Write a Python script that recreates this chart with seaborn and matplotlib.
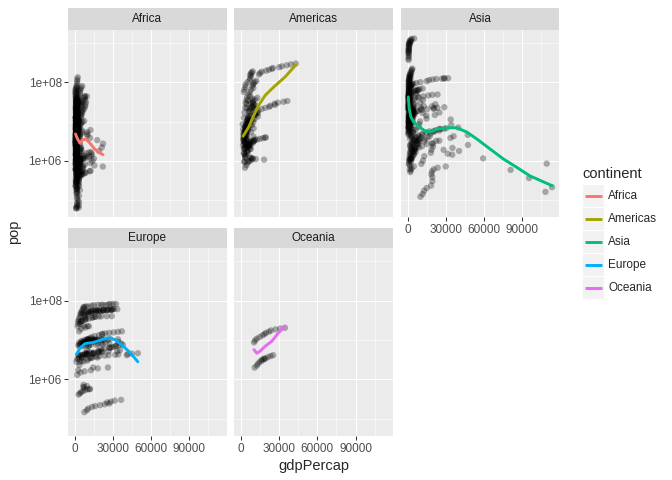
import numpy as np
import matplotlib
matplotlib.use('Agg')
import matplotlib.pyplot as plt
from matplotlib.ticker import FixedLocator, NullFormatter, FixedFormatter
from matplotlib.patches import Rectangle
import seaborn as sns

sns.set_theme(style='white')
plt.rcParams['font.family'] = ['Liberation Sans', 'DejaVu Sans']

# gapminder values (pop in millions)
continents = ['Africa', 'Americas', 'Asia', 'Europe', 'Oceania']
colors = ['#F8766D', '#A3A500', '#00BF7D', '#00B0F6', '#E76BF3']

africa_gdp = [
    2388, 3448, 6757, 18773, 21011, 21951, 17364, 11770, 9641, 9467, 9535, 12057,
    4293, 4976, 6631, 8359, 11402, 21746, 15113, 11864, 13522, 14723, 12522, 13206,
    4725, 5487, 5769, 7114, 7765, 8029, 8568, 7826, 7225, 7479, 7711, 9270,
    2449, 3014, 2551, 3247, 4183, 4910, 5745, 5681, 5023, 4797, 5288, 6223,
    1469, 1395, 1661, 1933, 2753, 3120, 3561, 3811, 4333, 4877, 5723, 7093,
    1419, 1459, 1693, 1815, 2024, 2785, 3504, 3885, 3795, 4173, 4755, 5581,
    1688, 1643, 1566, 1711, 1930, 2371, 2703, 2755, 2948, 2982, 3258, 3820,
    3521, 3828, 4269, 5523, 5473, 3009, 2757, 2430, 2628, 2277, 2773, 4797,
    2126, 2315, 2465, 2677, 3213, 3259, 4879, 4201, 4016, 3484, 3484, 3633,
    2424, 2622, 3173, 3793, 3746, 3876, 4191, 3694, 3804, 3899, 4072, 4811,
    1148, 1244, 1597, 1856, 3365, 3781, 3895, 3984, 3553, 3876, 4128, 4513,
    2719, 2770, 3173, 4021, 5048, 4320, 5267, 5303, 6101, 6071, 6316, 7670,
    2670, 2865, 3021, 3020, 3694, 3082, 2880, 2880, 2377, 1895, 1908, 2082,
    880, 861, 1071, 1385, 1533, 1738, 1890, 1516, 1428, 1339, 1353, 1598,
    1103, 1211, 1407, 1876, 1938, 1173, 1267, 1316, 1246, 1174, 1076, 986,
    485, 520, 599, 734, 757, 884, 836, 612, 666, 653, 661, 753,
    1077, 1150, 1353, 1577, 1619, 2014, 1100, 1014, 1982, 1385, 1625, 1615,
    362, 419, 566, 578, 422, 691, 379, 516, 557, 573, 516, 530,
    781, 896, 905, 673, 458, 278, 906, 862, 796, 673, 312, 241,
    1615, 1959, 1570, 1895, 1492, 2602, 1770, 1687, 2202, 1507, 1632, 1993,
    717, 849, 915, 875, 825, 1107, 699, 882, 963, 832, 789, 900,
    853, 897, 1222, 1348, 1341, 1463, 944, 1057, 1268, 1361, 1360, 1288,
    735, 768, 950, 682, 644, 1056, 775, 909, 844, 618, 816, 928,
    911, 1190, 1302, 876, 925, 1328, 1044, 1126, 993, 847, 1005, 1112,
    469, 556, 724, 462, 410, 824, 495, 567, 502, 390, 473, 634,
    1443, 1644, 1749, 1452, 1040, 1045, 1590, 1634, 1545, 1156, 987, 894,
    1389, 1729, 2378, 2603, 1649, 1545, 1501, 2052, 2518, 2157, 1786, 1648,
    1173, 1400, 1685, 2367, 1793, 2042, 1313, 1508, 1783, 2602, 1694, 1934,
    407, 527, 800, 789, 693, 470, 519, 570, 686, 706, 792, 672,
    369, 470, 666, 633, 563, 759, 416, 495, 665, 636, 692, 665,
    762, 1054, 955, 909, 581, 619, 959, 1055, 808, 668, 580, 601,
    543, 722, 854, 807, 931, 1217, 617, 795, 743, 912, 946, 1038,
    452, 496, 582, 619, 739, 1043, 490, 546, 686, 684, 790, 952,
    1450, 1654, 1598, 1518, 1367, 1712, 1568, 1612, 1562, 1441, 1393, 1520,
    1147, 1453, 1773, 1408, 1210, 1271, 1312, 1777, 1589, 1213, 1071, 1071,
    1179, 1389, 1104, 797, 1058, 1704, 1308, 1197, 1134, 952, 1005, 1156,
    510, 686, 742, 857, 795, 943, 576, 709, 875, 805, 870, 945,
    1136, 1385, 1254, 1177, 927, 926, 1258, 1284, 1451, 1093, 931, 882,
    493, 597, 591, 882, 737, 863, 540, 511, 670, 848, 590, 786,
    339, 355, 464, 560, 631, 430, 380, 413, 556, 621, 463, 446,
    1063, 949, 1086, 1278, 1191, 1441, 960, 1036, 1173, 1226, 1233, 1373,
    880, 1117, 1353, 1465, 1068, 863, 1004, 1207, 1348, 1294, 574, 699,
    859, 1068, 1650, 1344, 1035, 883, 925, 1477, 1533, 1203, 982, 886,
    329, 381, 514, 524, 582, 641, 344, 468, 506, 521, 913, 765,
    1071, 1194, 1071, 1054, 748, 706, 1190, 1136, 1109, 1133, 740, 738,
    575, 634, 803, 573, 636, 415, 620, 713, 640, 507, 610, 531,
    743, 1056, 1586, 1482, 1361, 1803, 847, 1366, 1497, 1421, 1483, 1579,
    299, 412, 497, 797, 977, 1569, 336, 411, 746, 773, 1187, 1275,
    300, 431, 820, 838, 746, 579, 432, 576, 765, 736, 796, 575,
    376, 582, 672, 927, 1132, 2814, 7703, 12154, 426, 916, 959, 967,
    851, 984, 2263, 4551, 6206, 7954, 8647, 11004, 12570, 918, 1215, 3215,
    1968, 2529, 2575, 3689, 6058, 7426, 9022, 10957, 2244, 2475, 3710, 4064,
]
africa_pop = [
    1.02, 1.15, 1.32, 1.76, 2.18, 2.72, 3.34, 3.80, 4.36, 4.76, 5.37, 6.04,
    0.42, 0.43, 0.455, 0.489, 0.537, 0.706, 0.753, 0.880, 0.985, 1.126, 1.299, 1.454,
    14.26, 16.15, 18.36, 20.99, 23.94, 27.13, 31.14, 35.93, 39.96, 42.84, 44.43, 43.99,
    9.28, 10.27, 11.0, 12.76, 14.76, 17.15, 20.03, 23.25, 26.3, 29.07, 31.29, 33.33,
    3.65, 3.95, 4.29, 4.79, 5.3, 6.0, 6.73, 7.72, 8.52, 9.23, 9.77, 10.28,
    22.2, 25.0, 28.2, 31.5, 34.8, 38.8, 45.7, 52.8, 59.4, 66.1, 73.3, 80.3,
    9.94, 11.4, 13.06, 14.77, 16.66, 18.4, 20.2, 22.99, 25.8, 28.5, 31.2, 33.8,
    4.23, 4.56, 4.83, 5.25, 5.89, 6.16, 7.02, 7.87, 8.74, 9.88, 10.87, 12.42,
    0.85, 0.94, 1.05, 1.18, 1.34, 1.54, 1.77, 2.06, 2.43, 2.8, 3.33, 3.8,
    0.49, 0.55, 0.62, 0.71, 0.82, 0.98, 1.1, 1.28, 1.55, 1.77, 1.97, 2.06,
    0.29, 0.33, 0.37, 0.42, 0.48, 0.55, 0.65, 0.78, 0.96, 1.05, 1.13, 1.13,
    0.26, 0.31, 0.36, 0.41, 0.46, 0.49, 0.52, 0.56, 0.62, 0.68, 0.74, 0.8,
    0.063, 0.072, 0.089, 0.127, 0.178, 0.229, 0.306, 0.348, 0.385, 0.418, 0.448, 0.497,
    0.060, 0.061, 0.065, 0.07, 0.076, 0.086, 0.098, 0.111, 0.125, 0.146, 0.171, 0.2,
    0.15, 0.17, 0.19, 0.22, 0.25, 0.30, 0.35, 0.4, 0.45, 0.53, 0.61, 0.71,
    0.28, 0.32, 0.37, 0.44, 0.52, 0.61, 0.72, 0.85, 1.03, 1.24, 1.46, 1.69,
    33.1, 41.9, 53.7, 73.0, 93.4, 135.0, 37.2, 47.3, 62.2, 81.6, 106.2, 119.9,
    20.9, 24.7, 30.8, 38.1, 52.1, 76.5, 22.8, 27.9, 34.6, 42.9, 59.9, 67.9,
    14.1, 17.5, 23.0, 30.6, 41.7, 64.6, 15.6, 19.9, 26.5, 35.5, 47.8, 55.4,
    8.5, 11.2, 14.6, 20.4, 28.2, 42.3, 9.75, 12.7, 17.1, 24.7, 32.2, 37.1,
    8.3, 10.9, 14.8, 19.8, 26.6, 38.1, 9.5, 12.6, 17.1, 23.0, 30.7, 34.6,
    6.5, 8.7, 12.0, 17.7, 25.0, 35.6, 7.45, 10.2, 14.5, 21.2, 28.3, 31.4,
    5.8, 7.7, 10.2, 12.9, 18.3, 29.2, 6.7, 8.9, 11.5, 15.3, 21.2, 24.7,
    5.6, 7.4, 9.4, 11.4, 16.3, 22.9, 6.4, 8.5, 10.5, 14.2, 18.4, 20.6,
    6.4, 7.8, 9.8, 12.6, 13.2, 19.95, 7.0, 8.7, 11.1, 12.9, 16.6, 18.5,
    4.8, 5.7, 7.1, 9.2, 12.2, 19.2, 5.2, 6.3, 8.0, 10.6, 14.2, 16.5,
    3.0, 3.8, 5.8, 9.0, 12.8, 18.0, 3.3, 4.7, 7.5, 10.8, 14.6, 16.3,
    5.0, 5.8, 7.0, 9.3, 12.5, 17.7, 5.4, 6.3, 7.9, 10.8, 14.2, 15.9,
    3.1, 4.3, 5.9, 7.6, 10.7, 12.3, 3.6, 4.99, 6.6, 9.2, 11.4, 11.9,
    2.9, 3.6, 4.7, 6.5, 10.0, 13.3, 3.2, 4.1, 5.6, 7.8, 10.4, 11.8,
    3.4, 4.1, 5.1, 6.4, 8.4, 12.9, 3.7, 4.5, 5.7, 7.3, 10.0, 11.1,
    4.5, 4.9, 5.8, 6.6, 8.9, 14.3, 4.7, 5.1, 6.3, 7.6, 10.4, 12.3,
    3.8, 4.2, 5.1, 6.4, 8.4, 12.0, 4.0, 4.6, 5.7, 7.6, 9.4, 10.6,
    2.8, 3.3, 4.4, 6.1, 8.3, 12.3, 3.05, 3.97, 5.26, 7.0, 9.5, 10.9,
    2.7, 3.4, 4.5, 6.1, 8.4, 11.7, 3.0, 3.9, 5.2, 7.3, 9.4, 10.6,
    2.7, 3.2, 3.9, 4.9, 6.4, 10.2, 2.9, 3.5, 4.4, 5.5, 7.6, 8.8,
    2.7, 3.1, 3.8, 4.7, 6.99, 9.9, 2.9, 3.45, 4.2, 5.65, 8.0, 8.8,
    2.5, 2.9, 3.8, 5.8, 6.1, 9.1, 2.8, 3.4, 4.4, 6.2, 6.6, 7.75,
    2.5, 3.1, 3.99, 5.5, 7.3, 8.9, 2.8, 3.45, 4.66, 6.35, 7.2, 7.85,
    2.4, 2.96, 3.5, 4.6, 5.8, 8.4, 2.7, 3.3, 3.8, 5.1, 6.1, 7.0,
    1.7, 2.2, 2.8, 3.6, 4.98, 8.1, 1.9, 2.4, 3.2, 4.2, 6.1, 7.0,
    2.1, 2.5, 2.9, 3.5, 4.3, 6.1, 2.3, 2.7, 3.1, 3.9, 4.6, 5.4,
    1.2, 1.5, 2.1, 2.6, 3.9, 5.7, 1.36, 1.7, 2.3, 3.2, 4.3, 4.98,
    1.4, 1.7, 2.3, 2.6, 3.7, 4.9, 1.5, 1.97, 2.5, 2.9, 4.06, 4.4,
    1.3, 1.5, 1.8, 2.5, 3.3, 4.4, 1.4, 1.7, 2.2, 2.8, 3.7, 4.05,
    0.86, 1.1, 1.5, 1.96, 1.9, 3.2, 0.97, 1.3, 1.7, 2.2, 2.2, 2.8,
    1.0, 1.1, 1.3, 1.6, 2.1, 3.3, 1.08, 1.2, 1.46, 1.84, 2.44, 2.83,
    0.75, 0.89, 1.1, 1.4, 1.8, 2.0, 0.81, 0.99, 1.25, 1.6, 1.98, 2.05,
    0.58, 0.63, 0.63, 0.83, 1.05, 1.47, 0.6, 0.6, 0.75, 0.93, 1.19, 1.33,
    0.22, 0.23, 0.28, 0.29, 0.39, 0.44, 0.50, 0.55, 0.23, 0.26, 0.19, 0.34,
    0.44, 0.51, 0.65, 0.97, 1.15, 1.34, 1.54, 1.63, 1.64, 0.47, 0.55, 0.78,
    0.52, 0.70, 0.85, 0.99, 1.10, 1.15, 1.2, 1.25, 0.61, 0.79, 0.91, 1.04,
]

americas_gdp = [
    13990, 14847, 16173, 19530, 21806, 24073, 25010, 29884, 32004, 35767, 39097, 42952,
    11367, 12490, 13462, 16077, 18971, 22091, 22899, 26627, 26343, 28955, 33329, 36319,
    2109, 2487, 3337, 3430, 4986, 6660, 7031, 7807, 6950, 7958, 8131, 9066,
    3478, 4132, 4582, 5755, 6809, 7675, 9611, 8688, 9472, 9767, 10742, 11978,
    5911, 6857, 7133, 8053, 9443, 10079, 8998, 9140, 9308, 10967, 8798, 12779,
    7690, 9802, 8422, 9541, 10506, 13144, 11152, 9884, 10734, 10165, 8605, 11416,
    3082, 3908, 5108, 6930, 9123, 9771, 10331, 12281, 14642, 16999, 18856, 19329,
    3023, 4100, 4997, 5621, 6620, 7900, 9119, 7389, 7371, 8792, 11461, 18009,
    3940, 4316, 4519, 5107, 5494, 4757, 5096, 5547, 7596, 10118, 10779, 13172,
    5587, 5181, 5305, 7316, 5593, 8948,
    2144, 2493, 3265, 4398, 5445, 7007,
    3759, 4957, 5938, 6435, 4446, 7409,
    3522, 4087, 5281, 7214, 7104, 6873,
    2428, 2750, 3791, 4820, 4440, 5186,
    1840, 1797, 1655, 2012, 1457, 1202,
    2677, 2181, 2980, 3157, 2962, 3822,
    1398, 1662, 2190, 2861, 3045, 6025,
    2195, 2291, 2572, 3121, 3082, 3548,
    3048, 3777, 4520, 4140, 4444, 5728,
    2138, 2148, 2566, 4258, 4196, 4173,
    3112, 3634, 4689, 3470, 2171, 2749,
    2627, 3460, 5118, 5262, 6160, 9645,
    5717, 5603, 5703, 6920, 8137, 10611,
    2480, 3173, 5116, 7010, 6619, 9809,
    2899, 4743, 7434, 6068, 7405, 7321,
]
americas_pop = [
    157.6, 172.0, 186.5, 198.7, 209.9, 220.2, 232.2, 242.8, 256.9, 272.9, 287.7, 301.1,
    14.79, 17.01, 18.99, 20.82, 22.28, 23.80, 25.2, 26.55, 28.52, 30.31, 31.9, 33.39,
    56.6, 65.6, 76.0, 88.0, 100.8, 114.3, 129.0, 142.9, 156.0, 168.5, 179.9, 190.0,
    30.1, 35.0, 41.1, 48.0, 56.0, 63.8, 71.6, 80.1, 88.1, 95.9, 102.5, 108.7,
    17.9, 19.6, 21.3, 22.9, 24.8, 26.98, 29.3, 31.6, 33.96, 36.2, 38.3, 40.3,
    5.4, 6.7, 8.1, 9.7, 11.5, 13.5, 15.6, 17.9, 20.3, 22.4, 24.3, 26.1,
    2.23, 2.26, 2.45, 2.65, 2.85, 3.08, 3.28, 3.44, 3.59, 3.76, 3.86, 3.94,
    0.66, 0.76, 0.88, 0.96, 0.98, 1.04, 1.12, 1.19, 1.18, 1.14, 1.10, 1.06,
    6.4, 7.0, 7.96, 8.9, 9.7, 10.4, 11.5, 12.5, 13.6, 14.6, 15.5, 16.3,
    6.0, 7.25, 8.8, 9.8, 10.7, 11.4,
    12.4, 17.0, 22.5, 27.8, 34.2, 44.2,
    8.0, 10.5, 13.95, 18.1, 22.4, 28.7,
    3.5, 4.7, 6.3, 8.4, 10.7, 13.8,
    3.1, 4.2, 5.5, 7.0, 8.9, 12.6,
    3.2, 3.9, 4.7, 5.2, 6.3, 8.5,
    2.9, 3.6, 4.6, 5.6, 6.9, 9.1,
    2.5, 3.45, 4.7, 6.0, 7.35, 9.3,
    1.5, 2.1, 2.9, 4.0, 5.3, 7.5,
    2.0, 2.7, 3.8, 4.5, 5.3, 6.9,
    1.6, 2.0, 2.6, 3.4, 4.5, 6.7,
    1.2, 1.6, 2.2, 3.0, 4.0, 5.7,
    0.93, 1.35, 1.8, 2.4, 3.2, 4.1,
    2.25, 2.54, 2.83, 2.95, 3.15, 3.45,
    0.94, 1.2, 1.6, 2.0, 2.5, 3.2,
    1.4, 1.7, 1.99, 2.3, 2.4, 2.8,
]

asia_gdp = [
    400, 576, 488, 613, 677, 741, 962, 1379, 1656, 2289, 3119, 4959,
    547, 590, 658, 701, 724, 813, 856, 977, 1164, 1459, 1747, 2452,
    750, 859, 849, 762, 1111, 1383, 1517, 1748, 2383, 3119, 2874, 3541,
    3217, 4318, 6577, 9848, 14779, 16610, 19384, 22376, 26825, 28817, 28605, 31656,
    685, 747, 803, 942, 1050, 1176, 1443, 1705, 1972, 2049, 2093, 2606,
    684, 662, 686, 721, 630, 660, 677, 752, 838, 973, 1136, 1391,
    1031, 1488, 1536, 2029, 3031, 4657, 5623, 8533, 12104, 15994, 19234, 23348,
    1207, 1508, 1823, 2644, 4063, 5597, 7426, 11055, 15216, 20207, 23235, 28718,
    3054, 3629, 4693, 6198, 8316, 11186, 14561, 20038, 24758, 28378, 30209, 39725,
    2316, 2761, 3674, 4978, 8597, 11210, 15170, 18862, 24769, 33519, 36023, 47143,
    108382, 113523, 95458, 80895, 109348, 59265, 31354, 28118, 34933, 40301, 35110, 47307,
    6460, 8157, 11626, 16903, 24837, 34168, 33693, 21199, 24841, 20586, 19014, 21655,
    9867, 11636, 12753, 14805, 18269, 19340, 19211, 18524, 19036, 20292, 23404, 29796,
    1828, 2243, 2925, 4721, 10618, 11849, 12955, 18115, 18617, 19702, 19775, 22316,
    4087, 5386, 7106, 8394, 12787, 13307, 15367, 17123, 18051, 20897, 21906, 25523,
    3035, 3291, 4187, 5907, 9614, 11889, 7608, 6643, 7235, 8263, 9241, 11606,
    4130, 6229, 8342, 8931, 9577, 14688, 14517, 11644, 3746, 3076, 4391, 4471,
    4834, 6090, 5716, 6006, 7486, 8659, 7640, 5377, 6891, 8755, 9314, 10461,
    1831, 1810, 2037, 2278, 2849, 3828, 4920, 5249, 7278, 10132, 10207, 12452,
    758, 874, 1010, 1485, 1659, 1962, 2393, 2983, 4617, 5852, 5913, 7458,
    1273, 1548, 1650, 1814, 1990, 2373, 2603, 2190, 2279, 2537, 2651, 3190,
    605, 676, 772, 637, 700, 714, 707, 821, 989, 1386, 1764, 2442,
    331, 350, 388, 349, 357, 371, 424, 385, 347, 415, 611, 944,
    779, 821, 853, 836, 740, 786, 978, 852, 649, 635, 727, 975,
    546, 598, 652, 677, 674, 695, 719, 775, 897, 1011, 1057, 1091,
    1084, 1073, 1074, 1136, 1213, 1349, 1648, 1877, 2154, 2665, 3015, 3970,
    1088, 1571, 1622, 2144, 3702, 4106, 4107, 4106, 3726, 1690, 1647, 1593,
    1644, 2118, 2194, 1882, 2572, 3195, 3762, 3900, 3421, 4014, 4091, 4185,
    1547, 1887, 2349, 2742, 2110, 2853, 4161, 4449, 3431, 3645, 3845, 4519,
    782, 805, 826, 862, 1266, 1830, 1978, 1972, 1879, 2118, 2235, 2281,
    368, 435, 497, 523, 422, 525, 625, 684, 682, 734, 896, 1714,
    786, 912, 1056, 1226, 1421, 1648, 2000, 2338, 1786, 1902, 2140, 3096,
    1516, 1827, 2199, 2650, 3133, 3682, 4336, 5108, 6018, 7111, 4516, 3025,
]
asia_pop = [
    556.3, 637.4, 665.8, 754.6, 862.0, 943.5, 1000.3, 1084.0, 1165.0, 1230.1, 1280.4, 1318.7,
    372.0, 409.0, 454.0, 506.0, 567.0, 634.0, 708.0, 788.0, 872.0, 959.0, 1034.2, 1110.4,
    82.1, 90.1, 99.0, 109.3, 121.3, 136.7, 153.3, 169.3, 184.8, 199.3, 211.1, 223.5,
    86.5, 91.6, 95.8, 100.8, 107.2, 113.9, 118.5, 122.1, 124.3, 126.0, 127.1, 127.5,
    41.3, 46.7, 53.1, 60.6, 69.3, 78.2, 91.5, 105.2, 120.1, 135.6, 153.4, 169.3,
    46.9, 51.4, 57.0, 62.8, 70.8, 80.4, 93.1, 103.8, 113.7, 123.3, 135.7, 150.4,
    20.9, 22.6, 26.4, 30.1, 33.5, 36.4, 39.3, 41.6, 43.8, 46.2, 47.97, 49.0,
    8.55, 10.16, 11.92, 13.65, 15.23, 16.79, 18.5, 19.76, 20.69, 21.63, 22.45, 23.17,
    2.13, 2.74, 3.31, 3.72, 4.12, 4.58, 5.26, 5.58, 5.83, 6.50, 6.76, 6.98,
    1.13, 1.45, 1.75, 1.98, 2.15, 2.33, 2.65, 2.79, 3.24, 3.80, 4.20, 4.55,
    0.16, 0.21, 0.36, 0.58, 0.84, 1.14, 1.50, 1.89, 1.42, 1.77, 2.11, 2.51,
    4.0, 4.42, 4.94, 5.62, 6.47, 8.13, 11.25, 14.62, 16.95, 21.23, 24.5, 27.6,
    0.12, 0.14, 0.17, 0.20, 0.23, 0.30, 0.38, 0.45, 0.53, 0.60, 0.66, 0.71,
    0.51, 0.56, 0.63, 0.71, 0.83, 1.0, 1.3, 1.59, 1.92, 2.28, 2.71, 3.2,
    1.62, 1.94, 2.31, 2.69, 3.10, 3.50, 3.86, 4.20, 4.94, 5.53, 6.03, 6.43,
    17.27, 19.79, 22.87, 26.54, 30.61, 35.48, 43.07, 51.89, 60.40, 63.33, 66.91, 69.45,
    5.44, 6.25, 7.24, 8.52, 10.06, 11.88, 14.17, 16.54, 17.86, 20.78, 24.0, 27.5,
    1.44, 1.65, 1.89, 2.19, 2.68, 3.12, 3.09, 3.09, 3.22, 3.43, 3.68, 3.92,
    6.75, 7.74, 8.91, 10.15, 11.44, 12.85, 14.44, 16.33, 18.32, 20.48, 22.66, 24.82,
    21.29, 25.04, 29.26, 34.02, 39.28, 44.15, 48.83, 52.91, 56.67, 60.22, 62.81, 65.07,
    22.44, 26.07, 30.33, 35.36, 40.85, 46.85, 53.46, 60.02, 67.19, 75.01, 82.99, 91.08,
    26.25, 28.99, 33.8, 39.46, 44.66, 50.53, 56.14, 62.83, 69.94, 76.05, 80.91, 85.26,
    20.09, 21.73, 23.63, 25.87, 28.47, 31.53, 34.68, 38.03, 40.55, 43.25, 45.6, 47.76,
    8.43, 9.24, 10.27, 11.54, 13.08, 14.88, 12.88, 13.87, 16.32, 22.23, 25.27, 31.89,
    9.18, 9.68, 10.33, 11.26, 12.41, 13.93, 15.8, 17.92, 20.33, 23.0, 25.87, 28.9,
    7.98, 9.13, 10.42, 11.74, 13.02, 14.12, 15.41, 16.5, 17.59, 18.7, 19.58, 20.38,
    8.87, 9.41, 10.92, 12.62, 14.78, 16.33, 17.65, 19.07, 20.71, 21.59, 22.22, 23.3,
    3.66, 4.15, 4.83, 5.68, 6.7, 7.93, 9.41, 11.24, 13.22, 15.08, 17.16, 19.31,
    0.61, 0.75, 0.93, 1.26, 1.61, 1.94, 2.35, 2.82, 3.87, 4.53, 5.31, 6.05,
    4.96, 5.5, 6.12, 6.74, 7.41, 8.4, 9.66, 11.22, 13.37, 15.83, 18.7, 22.21,
    4.69, 5.32, 6.08, 6.96, 7.45, 6.98, 7.27, 8.37, 10.15, 11.78, 12.93, 14.13,
    0.8, 0.88, 1.01, 1.15, 1.32, 1.53, 1.76, 2.02, 2.31, 2.49, 2.67, 2.87,
    1.03, 1.07, 1.13, 1.14, 1.09, 1.26, 1.43, 1.69, 2.1, 2.83, 3.39, 4.02,
]

europe_gdp = [
    7144, 10188, 12902, 14746, 18016, 20513, 22032, 24639, 26505, 27789, 30036, 32170,
    9980, 11283, 12477, 14143, 15895, 17429, 18232, 21665, 22705, 26075, 29479, 33203,
    7030, 8663, 10560, 12999, 16107, 18293, 20294, 22066, 24704, 25890, 28926, 30470,
    4931, 6249, 8244, 10022, 12269, 14256, 16537, 19208, 22014, 24675, 27968, 28570,
    1969, 2219, 2323, 2827, 3451, 4269, 4241, 5089, 5678, 6601, 6508, 8458,
    3834, 4565, 5694, 7994, 10639, 13237, 13926, 15765, 18603, 20445, 24835, 28821,
    8942, 11277, 12791, 15363, 18795, 21210, 21400, 23651, 26791, 30246, 33725, 36798,
    14734, 17909, 20431, 22966, 27195, 26982, 28398, 30282, 31872, 32135, 34481, 37506,
    10095, 11654, 13450, 16362, 18965, 23311, 26299, 31541, 33966, 41283, 44684, 49357,
    2648, 3683, 4650, 5908, 7779, 9595, 11222, 11733, 7003, 6465, 6557, 9254,
    7268, 9244, 10350, 13320, 15798, 19655, 23270, 26923, 25144, 28061, 31163, 36181,
    4029, 5338, 8006, 8452, 7739, 15390,
    3145, 4734, 8011, 9696, 6598, 10808,
    3531, 6017, 12725, 15268, 17541, 27538,
    3068, 4727, 9022, 11754, 16207, 20510,
    8343, 10991, 16673, 20980, 25576, 33693,
    6876, 10137, 13108, 15377, 14297, 22833,
    5264, 7550, 10168, 12546, 10536, 18009,
    8528, 12329, 17832, 20667, 23880, 33860,
    6137, 10751, 16662, 21597, 27042, 36126,
    2444, 4254, 6597, 8225, 6303, 10681,
    3581, 5907, 9315, 15181, 9325, 9787,
    9692, 13583, 18866, 21688, 26407, 35278,
    6425, 9372, 14359, 18533, 20647, 33207,
    5074, 7481, 9674, 11348, 9498, 18678,
    5210, 6632, 9531, 12618, 17559, 40676,
    3119, 5477, 9164, 13222, 8448, 14619,
    974, 1710, 2860, 4314, 2547, 7446,
    1601, 2313, 3313, 3631, 2497, 5937,
    4215, 7403, 12383, 17867, 14214, 25768,
]
europe_pop = [
    69.1, 71.0, 73.7, 76.4, 78.7, 78.2, 78.3, 77.7, 80.6, 82.0, 82.35, 82.4,
    50.4, 51.4, 53.3, 54.96, 56.1, 56.2, 56.3, 56.98, 57.9, 58.8, 59.9, 60.8,
    42.5, 44.3, 47.1, 49.0, 51.0, 53.2, 54.4, 55.6, 57.4, 58.6, 59.9, 61.1,
    47.7, 49.2, 50.8, 52.7, 54.4, 56.1, 56.5, 56.7, 56.8, 57.5, 57.9, 58.1,
    22.2, 25.7, 29.8, 33.4, 37.5, 42.4, 47.3, 52.9, 58.2, 63.0, 67.3, 71.2,
    28.5, 29.8, 31.2, 32.9, 34.5, 36.4, 37.98, 38.9, 39.5, 39.9, 40.2, 40.4,
    10.4, 11.0, 11.8, 12.6, 13.3, 13.85, 14.3, 14.67, 15.2, 15.6, 16.1, 16.6,
    4.8, 5.1, 5.7, 6.1, 6.4, 6.3, 6.5, 6.6, 6.99, 7.2, 7.4, 7.55,
    3.3, 3.5, 3.6, 3.8, 3.9, 4.0, 4.1, 4.2, 4.3, 4.4, 4.5, 4.6,
    0.41, 0.44, 0.47, 0.50, 0.53, 0.56, 0.56, 0.57, 0.62, 0.64, 0.72, 0.68,
    0.147, 0.165, 0.182, 0.199, 0.210, 0.221, 0.233, 0.244, 0.259, 0.271, 0.289, 0.301,
    25.7, 30.3, 33.0, 36.2, 38.4, 38.5,
    16.6, 19.0, 20.7, 22.4, 22.8, 22.3,
    7.7, 8.4, 8.9, 9.8, 10.3, 10.7,
    8.5, 9.0, 8.97, 9.9, 9.93, 10.6,
    8.7, 9.2, 9.7, 9.86, 10.05, 10.4,
    9.1, 9.6, 9.9, 10.3, 10.3, 10.2,
    9.5, 10.0, 10.4, 10.7, 10.3, 9.96,
    7.1, 7.6, 8.1, 8.3, 8.7, 9.03,
    6.9, 7.1, 7.5, 7.6, 7.9, 8.2,
    7.3, 8.0, 8.6, 8.9, 8.7, 7.3,
    6.9, 7.6, 8.3, 9.0, 9.8, 10.2,
    4.3, 4.6, 4.99, 5.1, 5.2, 5.5,
    4.1, 4.5, 4.6, 4.8, 5.0, 5.2,
    3.6, 4.2, 4.6, 5.0, 5.3, 5.4,
    2.95, 2.83, 3.0, 3.5, 3.6, 4.1,
    3.9, 4.1, 4.2, 4.4, 4.5, 4.5,
    2.8, 3.3, 3.8, 4.2, 4.3, 4.6,
    1.3, 1.7, 2.3, 2.8, 3.3, 3.6,
    1.5, 1.6, 1.7, 1.9, 2.0, 2.0,
]

oceania_gdp = [
    10040, 10950, 12217, 14526, 16789, 18334, 19477, 21889, 23425, 26998, 30688, 34435,
    10557, 12247, 13176, 14464, 16046, 16234, 17632, 19007, 18363, 21050, 23190, 25185,
]
oceania_pop = [
    8.69, 9.71, 10.79, 11.87, 13.18, 14.07, 15.18, 16.26, 17.48, 18.57, 19.55, 20.43,
    1.99, 2.23, 2.49, 2.73, 2.93, 3.16, 3.21, 3.32, 3.44, 3.68, 3.91, 4.12,
]

# loess curves (pop in millions)
africa_fit_gdp = [241, 1650, 3760, 5870, 8460, 11600, 15500, 20760, 21951]
africa_fit_pop = [4.8, 3.7, 2.8, 3.4, 3.55, 2.8, 1.95, 1.48, 1.42]
americas_fit_gdp = [1500, 6000, 9900, 13800, 19000, 25600, 34700, 42952]
americas_fit_pop = [4.2, 7.3, 14.4, 26, 47, 76, 139, 278]
asia_fit_gdp = [331, 1020, 2360, 4400, 8300, 13600, 17500, 22700, 30600, 38500,
                46300, 54200, 64600, 75100, 85600, 96000, 113523]
asia_fit_pop = [42.6, 21.4, 13.1, 9.8, 7.6, 5.7, 5.4, 6.3, 6.9, 6.9,
                5.4, 3.6, 2.0, 1.11, 0.68, 0.41, 0.23]
europe_fit_gdp = [973, 3900, 7850, 14400, 19600, 26100, 31400, 37900, 43200, 49357]
europe_fit_pop = [4.3, 6.3, 8.1, 8.7, 9.8, 11.4, 10.2, 6.9, 4.8, 2.8]
oceania_fit_gdp = [10040, 12300, 14900, 18800, 24100, 29300, 34435]
oceania_fit_pop = [5.7, 4.6, 5.2, 6.9, 9.3, 15.1, 22.4]

W, H = 672, 480
fig = plt.figure(figsize=(W / 100, H / 100), dpi=100)
fig.patch.set_facecolor('white')


def box(l, t, r, b):
    return [l / W, 1 - b / H, (r - l) / W, (b - t) / H]


tick_kw = dict(labelsize=8.45, labelcolor='#4D4D4D', color='#333333',
               length=2.64, width=0.75, pad=2.1)

# name, data, fit, panel rect, strip top, show x, show y
panels = [
    ('Africa', africa_gdp, africa_pop, africa_fit_gdp, africa_fit_pop, (68.3, 30, 226.5, 217), 7.5, False, True),
    ('Americas', americas_gdp, americas_pop, americas_fit_gdp, americas_fit_pop, (234.3, 30, 392.6, 217), 7.5, False, False),
    ('Asia', asia_gdp, asia_pop, asia_fit_gdp, asia_fit_pop, (401, 30, 559.2, 217), 7.5, True, False),
    ('Europe', europe_gdp, europe_pop, europe_fit_gdp, europe_fit_pop, (68.3, 248, 226.5, 436), 228.3, True, True),
    ('Oceania', oceania_gdp, oceania_pop, oceania_fit_gdp, oceania_fit_pop, (234.3, 248, 392.6, 436), 228.3, True, False),
]

for i, (name, gdp, pop, fx, fy, rect, st, showx, showy) in enumerate(panels):
    l, t, r, b = rect
    ax = fig.add_axes(box(l, t, r, b))
    ax.set_facecolor('#EBEBEB')
    ax.set_axisbelow(True)
    sns.scatterplot(x=gdp, y=np.array(pop) * 1e6, color='black', alpha=0.3,
                    s=21, edgecolor='none', ax=ax)
    sns.lineplot(x=fx, y=np.array(fy) * 1e6, color=colors[i], linewidth=2.1,
                 estimator=None, sort=False, ax=ax)
    ax.set_yscale('log')
    ax.set_xlim(-5423, 119187)
    ax.set_ylim(10 ** 4.561, 10 ** 9.337)
    ax.xaxis.set_major_locator(FixedLocator([0, 30000, 60000, 90000]))
    ax.xaxis.set_major_formatter(FixedFormatter(['0', '30000', '60000', '90000']))
    ax.xaxis.set_minor_locator(FixedLocator([15000, 45000, 75000, 105000]))
    ax.yaxis.set_major_locator(FixedLocator([1e6, 1e8]))
    ax.yaxis.set_major_formatter(FixedFormatter(['1e+06', '1e+08']))
    ax.yaxis.set_minor_locator(FixedLocator([1e5, 1e7, 1e9]))
    ax.yaxis.set_minor_formatter(NullFormatter())
    ax.grid(which='major', color='white', linewidth=0.78)
    ax.grid(which='minor', color='white', linewidth=0.39)
    for s in ax.spines.values():
        s.set_visible(False)
    ax.tick_params(axis='both', which='major', **tick_kw)
    ax.tick_params(axis='both', which='minor', length=0)
    ax.tick_params(axis='x', which='major', bottom=showx, labelbottom=showx)
    ax.tick_params(axis='y', which='major', left=showy, labelleft=showy)
    ax.set_xlabel('')
    ax.set_ylabel('')

    sax = fig.add_axes(box(l, st, r, t))
    sax.set_facecolor('#D9D9D9')
    sax.set_xticks([])
    sax.set_yticks([])
    for s in sax.spines.values():
        s.set_visible(False)
    sax.text(0.5, 0.5, name, ha='center', va='center', fontsize=8.45,
             color='#1A1A1A', transform=sax.transAxes)

fig.text(313.7 / W, 1 - 466 / H, 'gdpPercap', ha='center', va='center', fontsize=10.56)
fig.text(14 / W, 1 - 232 / H, 'pop', ha='center', va='center', rotation=90, fontsize=10.56)

# legend
lax = fig.add_axes(box(575, 160, 672, 305))
lax.set_xlim(575, 672)
lax.set_ylim(305, 160)
lax.axis('off')
lax.text(582.7, 174, 'continent', ha='left', va='center', fontsize=10.56)
for k, (name, col) in enumerate(zip(continents, colors)):
    yc = 196 + k * 23
    lax.add_patch(Rectangle((582.7, yc - 11.3), 21.6, 22.6, facecolor='#F2F2F2',
                            edgecolor='none'))
    lax.plot([584.8, 602.2], [yc, yc], color=col, linewidth=2.1, solid_capstyle='butt')
    lax.text(608.3, yc, name, ha='left', va='center', fontsize=8.45)

fig.savefig('out.png', dpi=100)
